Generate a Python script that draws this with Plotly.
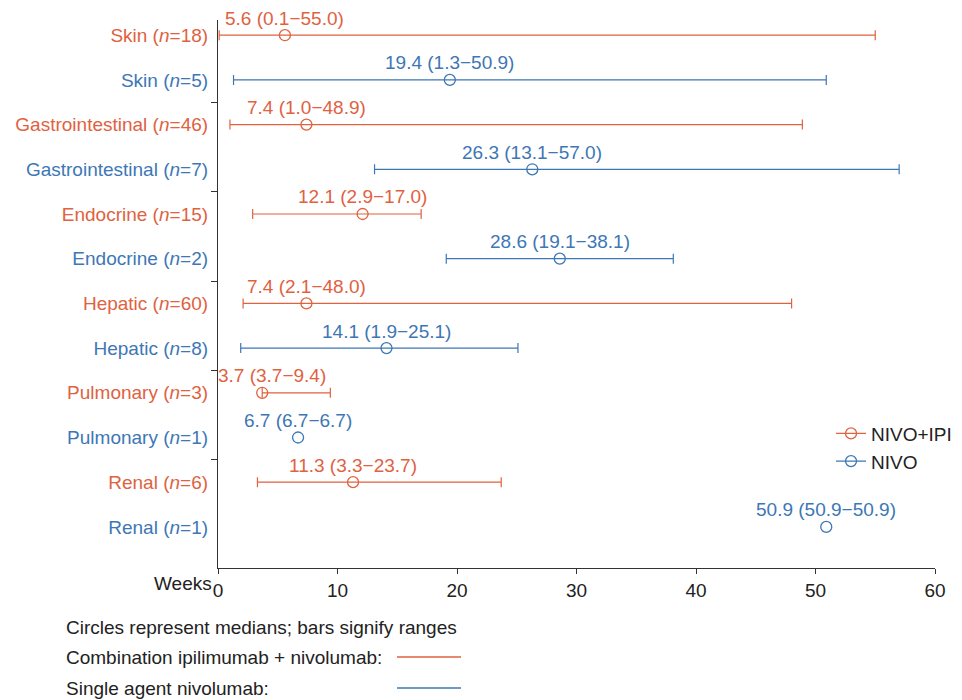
import plotly.graph_objects as go

# ---- data ----
organs = ["Skin", "Gastrointestinal", "Endocrine", "Hepatic", "Pulmonary", "Renal"]
n_combo = [18, 46, 15, 60, 3, 6]
med_combo = [5.6, 7.4, 12.1, 7.4, 3.7, 11.3]
lo_combo = [0.1, 1.0, 2.9, 2.1, 3.7, 3.3]
hi_combo = [55.0, 48.9, 17.0, 48.0, 9.4, 23.7]

n_nivo = [5, 7, 2, 8, 1, 1]
med_nivo = [19.4, 26.3, 28.6, 14.1, 6.7, 50.9]
lo_nivo = [1.3, 13.1, 19.1, 1.9, 6.7, 50.9]
hi_nivo = [50.9, 57.0, 38.1, 25.1, 6.7, 50.9]

x_ticks = [0, 10, 20, 30, 40, 50, 60]

RED = "#E0623F"
BLUE = "#3D77B5"
TXT = "#222222"
FONT = "Liberation Sans, Arial, Helvetica, sans-serif"
FS = 19

y_combo = [2 * i for i in range(len(organs))]
y_nivo = [2 * i + 1 for i in range(len(organs))]

fig = go.Figure()
for med, lo, hi, ys, col, name in [
    (med_combo, lo_combo, hi_combo, y_combo, RED, "NIVO+IPI"),
    (med_nivo, lo_nivo, hi_nivo, y_nivo, BLUE, "NIVO"),
]:
    marker = dict(symbol="circle-open", size=11, color=col, line=dict(width=1.3, color=col))
    ranged = [i for i in range(len(med)) if hi[i] > lo[i]]
    single = [i for i in range(len(med)) if hi[i] <= lo[i]]
    for idx, with_err in [(ranged, True), (single, False)]:
        if not idx:
            continue
        kw = {}
        if with_err:
            kw["error_x"] = dict(type="data", symmetric=False,
                                 array=[round(hi[i] - med[i], 3) for i in idx],
                                 arrayminus=[round(med[i] - lo[i], 3) for i in idx],
                                 color=col, thickness=1.2, width=5)
        fig.add_trace(go.Scatter(
            x=[med[i] for i in idx], y=[ys[i] for i in idx], mode="markers",
            marker=marker, showlegend=False, hoverinfo="skip", cliponaxis=False, **kw,
        ))
    # value labels above each median
    for m, l, h, y in zip(med, lo, hi, ys):
        near_axis = m < 5
        fig.add_annotation(
            text=f"{m:.1f} ({l:.1f}\u2212{h:.1f})",
            x=0 if near_axis else m, y=y, xref="x", yref="y",
            xanchor="left" if near_axis else "center", yanchor="middle",
            xshift=-2 if near_axis else 0, yshift=17, showarrow=False,
            font=dict(family=FONT, size=FS, color=col))
    fig.add_trace(go.Scatter(
        x=[None], y=[None], mode="lines+markers", name=name,
        marker=marker, line=dict(color=col, width=1.2),
    ))

tickvals, ticktext = [], []
for i, o in enumerate(organs):
    tickvals += [y_combo[i], y_nivo[i]]
    ticktext += [f'<span style="color:{RED}">{o} (<i>n</i>={n_combo[i]})</span>',
                 f'<span style="color:{BLUE}">{o} (<i>n</i>={n_nivo[i]})</span>']

boundaries = [2 * i + 1.5 for i in range(len(organs) - 1)]

fig.update_layout(
    width=962, height=692,
    margin=dict(l=210, r=35, t=12, b=132, autoexpand=False),
    plot_bgcolor="white", paper_bgcolor="white",
    font=dict(family=FONT, size=FS, color=TXT),
    legend=dict(x=0.855, y=0.28, xanchor="left", yanchor="top",
                font=dict(family=FONT, size=FS, color=TXT),
                bgcolor="rgba(0,0,0,0)", itemwidth=30),
    xaxis=dict(range=[0, 60], tickvals=x_ticks, showgrid=False, zeroline=False,
               showline=True, linecolor="#333333", linewidth=1.2,
               ticks="outside", ticklen=5, tickcolor="#333333", automargin=False,
               tickfont=dict(family=FONT, size=FS, color=TXT)),
    yaxis=dict(range=[11.92, -0.34], tickvals=tickvals, ticktext=ticktext,
               showgrid=False, zeroline=False, showline=True, automargin=False,
               linecolor="#333333", linewidth=1.2, ticks="",
               ticklabelstandoff=5,
               tickfont=dict(family=FONT, size=FS),
               minor=dict(tickvals=boundaries, ticks="outside", ticklen=6,
                          tickcolor="#333333", showgrid=False)),
)

fig.add_annotation(text="Weeks", x=0, xref="x", y=0, yref="paper",
                   xanchor="right", yanchor="top", xshift=-4, yshift=-3,
                   showarrow=False, font=dict(family=FONT, size=FS, color=TXT))

notes = ["Circles represent medians; bars signify ranges",
         "Combination ipilimumab + nivolumab:",
         "Single agent nivolumab:"]
note_y = [627, 657, 688]
for t, py in zip(notes, note_y):
    fig.add_annotation(text=t, xref="paper", yref="paper",
                       x=(64 - 218) / 717, y=(568 - py) / 548,
                       xanchor="left", yanchor="middle", showarrow=False,
                       font=dict(family=FONT, size=FS, color=TXT))
for col, py in [(RED, 657), (BLUE, 688)]:
    fig.add_shape(type="line", xref="paper", yref="paper",
                  x0=(397 - 218) / 717, x1=(461 - 218) / 717,
                  y0=(568 - py) / 548, y1=(568 - py) / 548,
                  line=dict(color=col, width=1.3))

fig.write_html("out.html")
